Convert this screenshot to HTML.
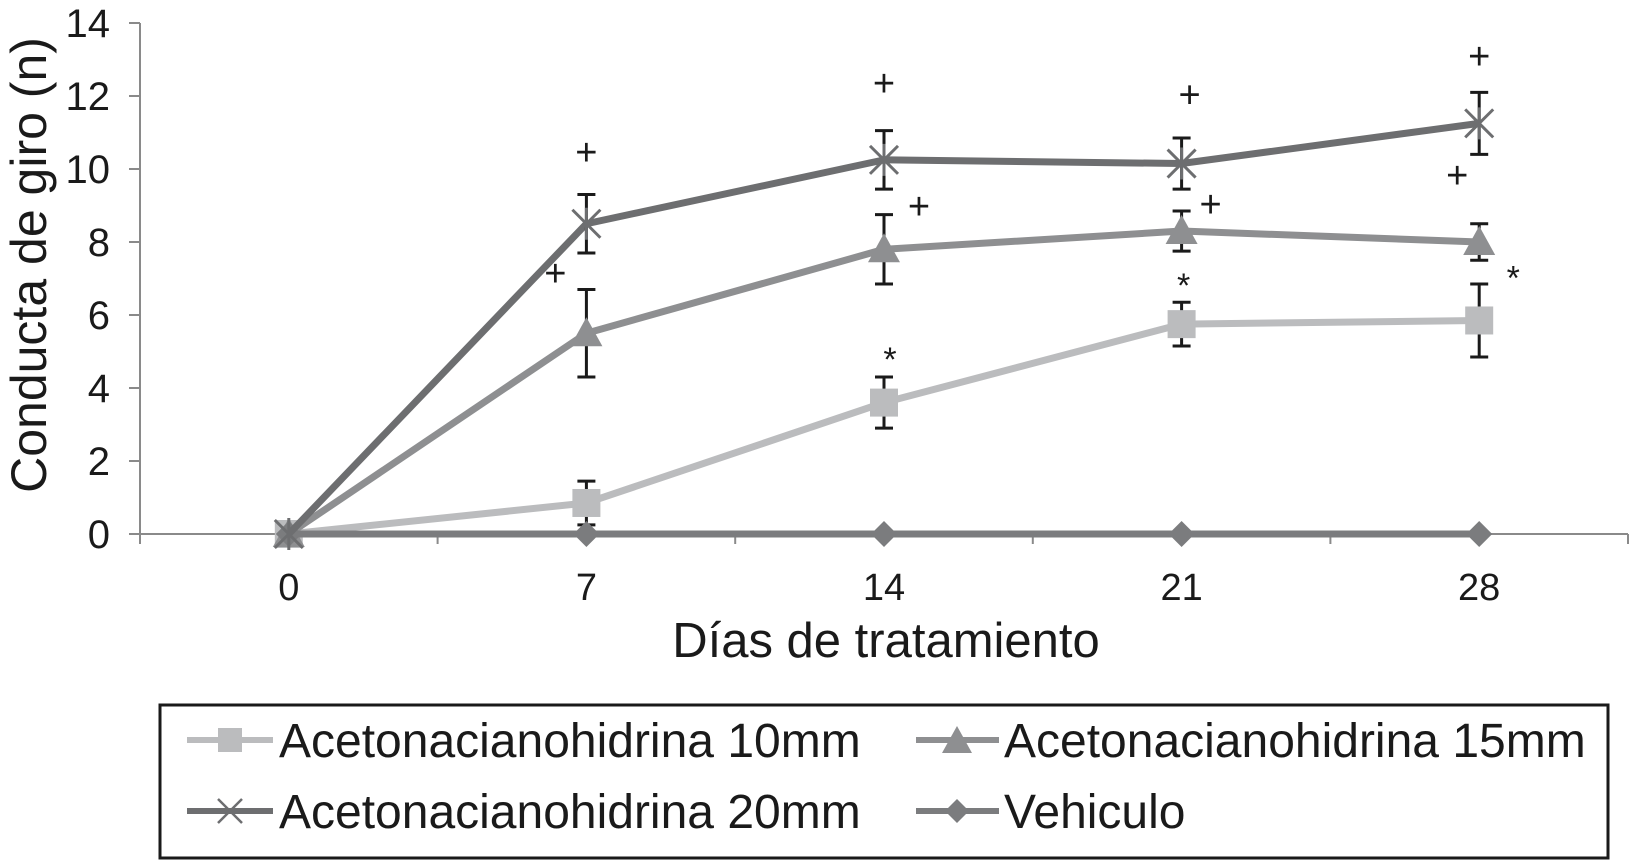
<!DOCTYPE html>
<html><head><meta charset="utf-8"><style>
html,body{margin:0;padding:0;background:#fff;}
svg{display:block;font-family:"Liberation Sans",Arial,sans-serif;}
</style></head><body>
<svg id="chart" width="1632" height="860" viewBox="0 0 1632 860">
<g id="axes"></g><g id="series"></g><g id="annot"></g>
<g>
<rect x="160" y="705" width="1448" height="153" fill="none" stroke="#1a1a1a" stroke-width="3"/>
<g>
<line x1="187" y1="740" x2="273" y2="740" stroke="#bbbcbe" stroke-width="6"/><rect x="218" y="728" width="24" height="24" fill="#bbbcbe"/>
<text x="279" y="757" font-size="48" fill="#1a1a1a">Acetonacianohidrina 10mm</text></g>
<g>
<line x1="916" y1="740" x2="999" y2="740" stroke="#8e8f91" stroke-width="6"/><polygon points="957,726 972,753 942,753" fill="#8e8f91"/>
<text x="1004" y="757" font-size="48" fill="#1a1a1a">Acetonacianohidrina 15mm</text></g>
<g>
<line x1="187" y1="811" x2="273" y2="811" stroke="#6d6e70" stroke-width="6"/><path d="M218,799 L242,823 M242,799 L218,823" stroke="#6d6e70" stroke-width="2.5"/>
<text x="279" y="828" font-size="48" fill="#1a1a1a">Acetonacianohidrina 20mm</text></g>
<g>
<line x1="916" y1="811" x2="999" y2="811" stroke="#7b7c7e" stroke-width="6"/><polygon points="957,799 969,811 957,823 945,811" fill="#7b7c7e"/>
<text x="1004" y="828" font-size="48" fill="#1a1a1a">Vehiculo</text></g>
</g>
</svg>
<script>
const days = [0, 7, 14, 21, 28];
const yTicks = [0, 2, 4, 6, 8, 10, 12, 14];
const s10 = [0, 0.85, 3.6, 5.75, 5.85];
const e10 = [0, 0.6, 0.7, 0.6, 1.0];
const s15 = [0, 5.5, 7.8, 8.3, 8.0];
const e15 = [0, 1.2, 0.95, 0.55, 0.5];
const s20 = [0, 8.5, 10.25, 10.15, 11.25];
const e20 = [0, 0.8, 0.8, 0.7, 0.85];
const sVeh = [0, 0, 0, 0, 0];
const annDay = [7, 7, 14, 14, 14, 21, 21, 21, 28, 28, 28];
const annVal = [10.47, 7.15, 12.35, 8.98, 5.07, 12.04, 9.04, 7.1, 13.1, 9.84, 7.3];
const annSym = ['+', '+', '+', '+', '*', '+', '+', '*', '+', '+', '*'];
const annOff = [0, -31, 0, 35, 6, 8, 29, 2, 0, -22, 34];

const NS = 'http://www.w3.org/2000/svg';
const X0 = 140, X1 = 1628, Y0 = 534, YTOP = 23;
const band = (X1 - X0) / days.length;
const xs = i => X0 + band * (i + 0.5);
const ys = v => Y0 - (v / 14) * (Y0 - YTOP);
function mk(tag, attrs, parent) { const e = document.createElementNS(NS, tag); for (const k in attrs) e.setAttribute(k, attrs[k]); parent.appendChild(e); return e; }
const axes = document.getElementById('axes'), ser = document.getElementById('series'), ann = document.getElementById('annot');

let el = mk('line', {x1: X0, y1: YTOP, x2: X0, y2: Y0, stroke: '#8a8a8a', 'stroke-width': 2}, axes);


el = mk('line', {x1: X0, y1: Y0, x2: X1, y2: Y0, stroke: '#8a8a8a', 'stroke-width': 2}, axes);


yTicks.forEach(t => {
  mk('line', {x1: X0 - 11, y1: ys(t), x2: X0, y2: ys(t), stroke: '#8a8a8a', 'stroke-width': 2}, axes);
  const tx = mk('text', {x: 110, y: ys(t) + 14, 'font-size': 40, 'text-anchor': 'end', fill: '#1a1a1a'}, axes);
  tx.textContent = t;
  
  
});
for (let i = 0; i <= days.length; i++) mk('line', {x1: X0 + band * i, y1: Y0, x2: X0 + band * i, y2: Y0 + 10, stroke: '#8a8a8a', 'stroke-width': 2}, axes);
days.forEach((d, i) => {
  const tx = mk('text', {x: xs(i), y: 600, 'font-size': 38, 'text-anchor': 'middle', fill: '#1a1a1a'}, axes);
  tx.textContent = d;
  
  
});
el = mk('text', {x: 886, y: 657, 'font-size': 49, 'text-anchor': 'middle', fill: '#1a1a1a'}, axes);
el.textContent = 'Días de tratamiento';


el = mk('text', {x: 0, y: 0, 'font-size': 50, 'text-anchor': 'middle', fill: '#1a1a1a', transform: 'translate(46,265) rotate(-90)'}, axes);
el.textContent = 'Conducta de giro (n)';



function errBars(vals, errs) {
  vals.forEach((v, i) => {
    if (!errs[i]) return;
    const x = xs(i), a = ys(v + errs[i]), b = ys(v - errs[i]);
    const g = mk('path', {d: `M${x},${a}L${x},${b}M${x-9},${a}L${x+9},${a}M${x-9},${b}L${x+9},${b}`, stroke: '#1a1a1a', 'stroke-width': 3, fill: 'none'}, ser);
    
    
  });
}
function line(vals, color, name) {
  const p = mk('polyline', {points: vals.map((v, i) => xs(i) + ',' + ys(v)).join(' '), fill: 'none', stroke: color, 'stroke-width': 7, 'stroke-linejoin': 'round'}, ser);
  
  
}
function markers(vals, color, kind, name) {
  vals.forEach((v, i) => {
    const x = xs(i), y = ys(v); let m;
    if (kind === 'sq') m = mk('rect', {x: x - 14, y: y - 14, width: 28, height: 28, fill: color}, ser);
    else if (kind === 'tri') m = mk('polygon', {points: `${x},${y-16} ${x+16},${y+13} ${x-16},${y+13}`, fill: color}, ser);
    else if (kind === 'x') m = mk('path', {d: `M${x-14},${y-14}L${x+14},${y+14}M${x+14},${y-14}L${x-14},${y+14}M${x},${y-16}L${x},${y+16}`, stroke: color, 'stroke-width': 3}, ser);
    else m = mk('polygon', {points: `${x},${y-13} ${x+13},${y} ${x},${y+13} ${x-13},${y}`, fill: color}, ser);
    
    
  });
}
line(s10, '#bbbcbe', 'line-10mm'); errBars(s10, e10); markers(s10, '#bbbcbe', 'sq', 'point-10mm');
line(s15, '#8e8f91', 'line-15mm'); errBars(s15, e15); markers(s15, '#8e8f91', 'tri', 'point-15mm');
line(sVeh, '#7b7c7e', 'line-vehiculo'); markers(sVeh, '#7b7c7e', 'dia', 'point-vehiculo');
line(s20, '#6d6e70', 'line-20mm'); errBars(s20, e20); markers(s20, '#6d6e70', 'x', 'point-20mm');

annDay.forEach((d, k) => {
  const i = days.indexOf(d);
  const star = annSym[k] === '*';
  const t = mk('text', {x: xs(i) + annOff[k], y: ys(annVal[k]) + (star ? 22 : 13), 'font-size': star ? 34 : 38, 'text-anchor': 'middle', fill: '#1a1a1a'}, ann);
  t.textContent = annSym[k];
  
  
});
</script>
</body></html>
